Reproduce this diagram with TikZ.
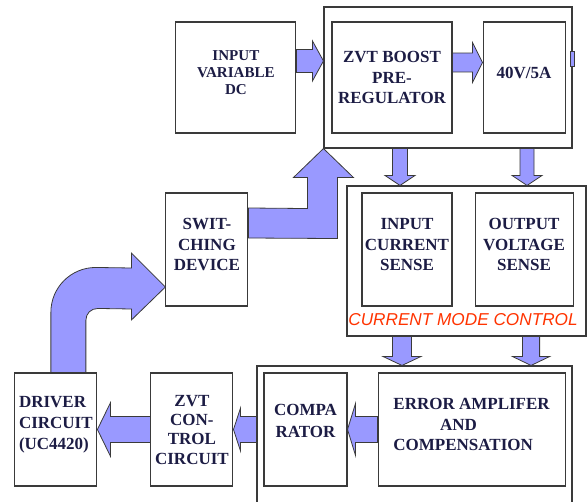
\documentclass[tikz,border=0pt]{standalone}
\usepackage{fontspec}
\setmainfont{Liberation Serif}
\newfontfamily\labelfont{Liberation Sans}
\usepackage{xcolor}
\usetikzlibrary{calc, positioning}
\definecolor{ink}{HTML}{1C1C44}
\definecolor{edge}{HTML}{3A3A3A}
\definecolor{lilac}{HTML}{9999FF}
\definecolor{flame}{HTML}{FF3300}

% block arrow, sideways: tail, target, half body, half head, head length (+ right, - left)
\newcommand{\sideblock}[5]{%
  \draw[blk] let \p1=(#1), \p2=(#2) in
    (\x1,{\y1+#3}) -- ({\x2-(#5)},{\y1+#3}) -- ({\x2-(#5)},{\y1+#4}) -- (\x2,\y1)
    -- ({\x2-(#5)},{\y1-#4}) -- ({\x2-(#5)},{\y1-#3}) -- (\x1,{\y1-#3}) -- cycle;}
% block arrow, pointing down
\newcommand{\downblock}[5]{%
  \draw[blk] let \p1=(#1), \p2=(#2) in
    ({\x1-#3},\y1) -- ({\x1-#3},{\y2+#5}) -- ({\x1-#4},{\y2+#5}) -- (\x1,\y2)
    -- ({\x1+#4},{\y2+#5}) -- ({\x1+#3},{\y2+#5}) -- ({\x1+#3},\y1) -- cycle;}

\begin{document}
\begin{tikzpicture}[
    x=0.75pt, y=-0.75pt,
    unit/.style={rectangle, draw=edge, line width=0.8pt, text=ink, align=center,
                 inner sep=1pt, minimum height=84.75pt, text depth=7.5pt,
                 font=\fontsize{12.75}{15.5}\selectfont\bfseries},
    grp/.style={rectangle, draw=edge, line width=0.8pt},
    blk/.style={draw=edge, line width=0.6pt, fill=lilac},
  ]
    \path[use as bounding box, clip] (0,0) rectangle (587,502);

    % power stage
    \node[grp, minimum width=186pt, minimum height=105.75pt] (topgrp) at (448,77.5) {};
    \node[unit, minimum width=90pt, minimum height=83.25pt, text depth=0pt] (zvt) at (392,77.5)
        {ZVT BOOST\\PRE-\\REGULATOR};
    \node[unit, minimum width=61.5pt, minimum height=83.25pt, right=22.5pt of zvt] (out40) {40V/5A};
    \node[unit, minimum width=90pt, minimum height=83.25pt, left=26.25pt of zvt,
          font=\fontsize{11.3}{12.75}\selectfont\bfseries] (inDC) {INPUT\\VARIABLE\\DC};

    % sensing
    \node[grp, minimum width=179.25pt, minimum height=112.5pt] (cmc) at (466.5,261) {};
    \node[unit, minimum width=67.5pt] (ics) at (407,249.5) {INPUT\\CURRENT\\SENSE};
    \node[unit, minimum width=73.5pt, right=16.5pt of ics] (ovs) {OUTPUT\\VOLTAGE\\SENSE};
    \node[unit, minimum width=61.5pt, left=84.75pt of ics] (sw) {SWIT-\\CHING\\DEVICE};
    \node[font=\labelfont\itshape\fontsize{12.9}{15}\selectfont, text=flame] (cmclabel)
        at (463,320) {CURRENT MODE CONTROL};

    % control chain
    \node[grp, minimum width=236.25pt, minimum height=115.5pt] (botgrp) at (414.5,443) {};
    \node[unit, minimum width=62.25pt, text depth=13.5pt,
          font=\fontsize{12.75}{16.5}\selectfont\bfseries] (comp) at (305.5,429.5) {COMPA\\RATOR};
    \node[unit, minimum width=140.25pt, right=22.5pt of comp, align=left] (err)
        {ERROR AMPLIFER\\\hspace*{35pt}AND\\COMPENSATION};
    \node[unit, minimum width=61.5pt, left=22.5pt of comp, text depth=0pt,
          font=\fontsize{12.75}{14.5}\selectfont\bfseries] (zvtc) {ZVT\\CON-\\TROL\\CIRCUIT};
    \node[unit, minimum width=61.5pt, left=39.75pt of zvtc, align=left, text depth=10pt] (drv)
        {DRIVER\\CIRCUIT\\(UC4420)};

    % block arrows
    \sideblock{[yshift=12.4pt]inDC.east}{topgrp.west}{8.6pt}{15pt}{8.25pt}
    \sideblock{[yshift=11.25pt]zvt.east}{out40.west}{7.1pt}{15pt}{7.5pt}
    \sideblock{err.west}{comp.east}{9.75pt}{19.5pt}{-6pt}
    \sideblock{botgrp.west |- comp.west}{zvtc.east}{9.75pt}{16pt}{-5.25pt}
    \sideblock{zvtc.west}{drv.east}{9.75pt}{20pt}{-9.75pt}

    \downblock{$(topgrp.south -| ics.north)+(-7,0)$}{cmc.north}{5.6pt}{11.25pt}{7.5pt}
    \downblock{$(topgrp.south -| ovs.north)+(3,0)$}{cmc.north}{5.25pt}{11.25pt}{7.5pt}
    \downblock{$(cmc.south -| ics.south)+(-5,0)$}{botgrp.north}{7.1pt}{14.25pt}{6.75pt}
    \downblock{$(cmc.south -| ovs.south)+(7,0)$}{botgrp.north}{6.4pt}{14pt}{6.75pt}

    % switching device up into the boost stage
    \draw[blk] ($(sw.east)+(0,-41.5)$) -- ($(topgrp.south west)+(-16,60)$)
        -- ($(topgrp.south west)+(-16,29)$) -- ($(topgrp.south west)+(-30,29)$)
        -- (topgrp.south west) -- ($(topgrp.south west)+(30,29)$)
        -- ($(topgrp.south west)+(14,29)$) -- ($(topgrp.south west)+(14,90)$)
        -- ($(sw.east)+(0,-11.5)$) -- cycle;

    % driver round to switching device
    \draw[blk] ($(drv.north)+(-5,0)$) -- ($(drv.north)+(-5,-60)$)
        .. controls ($(drv.north)+(-5,-85)$) and ($(drv.north)+(15,-105)$) .. ($(drv.north)+(40,-105)$)
        -- ($(sw.west)+(-34,18.5)$) -- ($(sw.west)+(-34,3.5)$) -- ($(sw.west)+(0,37.5)$)
        -- ($(sw.west)+(-34,70.5)$) -- ($(sw.west)+(-34,59.5)$) -- ($(drv.north)+(42,-64)$)
        .. controls ($(drv.north)+(35,-64)$) and ($(drv.north)+(30,-59)$) .. ($(drv.north)+(30,-52)$)
        -- ($(drv.north)+(30,0)$) -- cycle;

    % stub leaving the output
    \draw[blk] ($(topgrp.east)+(-2,-26.5)$) rectangle ($(topgrp.east)+(2,-11.5)$);
\end{tikzpicture}
\end{document}
